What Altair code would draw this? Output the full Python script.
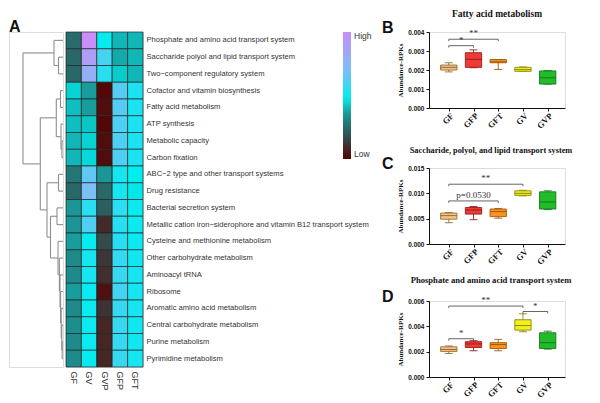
import altair as alt
import pandas as pd

# ---------------- Heatmap data ----------------
rows = [
    "Phosphate and amino acid transport system",
    "Saccharide polyol and lipid transport system",
    "Two\u2212component regulatory system",
    "Cofactor and vitamin biosynthesis",
    "Fatty acid metabolism",
    "ATP synthesis",
    "Metabolic capacity",
    "Carbon fixation",
    "ABC\u22122 type and other transport systems",
    "Drug resistance",
    "Bacterial secretion system",
    "Metallic cation iron\u2212siderophore and vitamin B12 transport system",
    "Cysteine and methionine metabolism",
    "Other carbohydrate metabolism",
    "Aminoacyl tRNA",
    "Ribosome",
    "Aromatic amino acid metabolism",
    "Central carbohydrate metabolism",
    "Purine metabolism",
    "Pyrimidine metabolism",
]
cols = ["GF", "GV", "GVP", "GFP", "GFT"]
gf_vals = [0.25, 0.24, 0.24, 0.44, 0.41, 0.41, 0.40, 0.40, 0.28, 0.24, 0.35, 0.35, 0.36, 0.33, 0.33, 0.36, 0.33, 0.34, 0.33, 0.33]
gv_vals = [1.00, 0.90, 0.80, 0.36, 0.36, 0.42, 0.44, 0.45, 0.65, 0.70, 0.55, 0.62, 0.49, 0.52, 0.52, 0.50, 0.50, 0.50, 0.50, 0.49]
gvp_vals = [0.49, 0.60, 0.55, 0.01, 0.02, 0.01, 0.02, 0.02, 0.35, 0.24, 0.22, 0.09, 0.17, 0.12, 0.10, 0.03, 0.11, 0.08, 0.08, 0.08]
gfp_vals = [0.40, 0.38, 0.43, 0.63, 0.63, 0.62, 0.62, 0.62, 0.52, 0.52, 0.56, 0.55, 0.55, 0.57, 0.58, 0.60, 0.58, 0.58, 0.58, 0.58]
gft_vals = [0.40, 0.40, 0.40, 0.53, 0.53, 0.53, 0.53, 0.53, 0.48, 0.47, 0.50, 0.50, 0.50, 0.51, 0.52, 0.52, 0.52, 0.51, 0.51, 0.52]

color_stops = [0.0, 0.2, 0.34, 0.48, 0.7, 1.0]
color_range = ["#550303", "#2f5858", "#1d8e8e", "#00eeee", "#7cbef5", "#c98ef7"]

# dendrogram merges: (left, right, height) ; leaves 0..19, new clusters 20+
merges = [
    (1, 2, 4.5), (0, 20, 9.0), (3, 4, 2.5), (6, 7, 1.0), (5, 23, 2.0),
    (22, 24, 6.7), (8, 9, 4.5), (10, 11, 6.0), (18, 19, 0.8), (17, 28, 1.2),
    (16, 29, 1.8), (15, 30, 2.4), (14, 31, 3.0), (13, 32, 3.6), (12, 33, 5.0),
    (27, 34, 12.5), (26, 35, 16.0), (25, 36, 22.7), (21, 37, 40.0),
]

# ---------------- Box plot data ----------------
groups = ["GF", "GFP", "GFT", "GV", "GVP"]
box_fill = ["#f5c48a", "#ee3b36", "#f7931e", "#f2f01c", "#22bb2a"]
box_stroke = ["#9a6a30", "#9a1e1a", "#a35a08", "#8a8a10", "#157a1c"]

fatty_lo = [0.00190, 0.00212, 0.00203, 0.00193, 0.00126]
fatty_q1 = [0.00200, 0.00214, 0.00238, 0.00193, 0.00126]
fatty_med = [0.00214, 0.00256, 0.00243, 0.00202, 0.00159]
fatty_q3 = [0.00226, 0.00291, 0.00255, 0.00214, 0.00195]
fatty_hi = [0.00238, 0.00306, 0.00255, 0.00216, 0.00197]

sacch_lo = [0.0042, 0.0048, 0.0051, 0.0095, 0.0068]
sacch_q1 = [0.0049, 0.0059, 0.0054, 0.0096, 0.0069]
sacch_med = [0.0056, 0.0067, 0.0064, 0.0100, 0.0083]
sacch_q3 = [0.0061, 0.0072, 0.0069, 0.0105, 0.0103]
sacch_hi = [0.0062, 0.0074, 0.0070, 0.0106, 0.0105]

phos_lo = [0.00186, 0.00207, 0.00207, 0.00357, 0.00220]
phos_q1 = [0.00202, 0.00233, 0.00225, 0.00370, 0.00225]
phos_med = [0.00217, 0.00261, 0.00256, 0.00406, 0.00271]
phos_q3 = [0.00238, 0.00279, 0.00271, 0.00452, 0.00349]
phos_hi = [0.00245, 0.00287, 0.00297, 0.00499, 0.00362]

# significance brackets: (from group, to group, level, label)
fatty_sig = [("GF", "GFT", 0.00362, "**"), ("GF", "GFP", 0.00328, "*")]
sacch_sig = [("GF", "GV", 0.0118, "**"), ("GF", "GFT", 0.0085, "p=0.0530")]
phos_sig = [("GF", "GV", 0.0056, "**"), ("GV", "GVP", 0.00517, "*"), ("GF", "GFP", 0.00302, "*")]

# ---------------- Build heatmap ----------------
vals_by_col = {"GF": gf_vals, "GV": gv_vals, "GVP": gvp_vals, "GFP": gfp_vals, "GFT": gft_vals}
heat_rows = []
for c in cols:
    for r, v in zip(rows, vals_by_col[c]):
        heat_rows.append({"row": r, "col": c, "v": v})
heat_df = pd.DataFrame(heat_rows)

HM_W, HM_H = 77, 335

heat = alt.Chart(heat_df).mark_rect(stroke="#1a2626", strokeWidth=0.7).encode(
    x=alt.X("col:N", sort=cols, scale=alt.Scale(paddingInner=0, paddingOuter=0),
            axis=alt.Axis(title=None, orient="bottom", labelAngle=90, ticks=False, domain=False,
                          labelFont="Liberation Sans", labelFontSize=9, labelColor="#333333",
                          labelPadding=4, labelAlign="left", labelBaseline="middle")),
    y=alt.Y("row:N", sort=rows, scale=alt.Scale(paddingInner=0, paddingOuter=0),
            axis=alt.Axis(title=None, orient="right", ticks=False, domain=False,
                          labelFont="Liberation Sans", labelFontSize=7.6, labelColor="#333333",
                          labelPadding=3, labelLimit=300)),
    color=alt.Color("v:Q", title=None,
                    scale=alt.Scale(domain=color_stops, range=color_range, interpolate="rgb"),
                    legend=alt.Legend(orient="none", legendX=334, legendY=0, direction="vertical",
                                      gradientLength=127, gradientThickness=8, gradientStrokeWidth=0,
                                      values=[0, 1], labelExpr="datum.value >= 1 ? 'High' : 'Low'",
                                      labelFont="Liberation Sans", labelFontSize=8.5,
                                      labelColor="#333333", labelOffset=3)),
).properties(width=HM_W, height=HM_H)

# ---------------- Build dendrogram ----------------
pos = {i: i + 0.5 for i in range(len(rows))}
hgt = {i: 0.0 for i in range(len(rows))}
segs = []
for k, (a, b, h) in enumerate(merges):
    nid = len(rows) + k
    segs.append({"x": hgt[a], "x2": h, "y": pos[a], "y2": pos[a]})
    segs.append({"x": hgt[b], "x2": h, "y": pos[b], "y2": pos[b]})
    segs.append({"x": h, "x2": h, "y": pos[a], "y2": pos[b]})
    pos[nid] = (pos[a] + pos[b]) / 2
    hgt[nid] = h
seg_df = pd.DataFrame(segs)

DEN_W = 54
dendro_lines = alt.Chart(seg_df).mark_rule(color="#8f8f8f", strokeWidth=1.1).encode(
    x=alt.X("x:Q", scale=alt.Scale(domain=[DEN_W, 0], nice=False, zero=False), axis=None),
    x2="x2:Q",
    y=alt.Y("y:Q", scale=alt.Scale(domain=[0, len(rows)], reverse=True, nice=False, zero=False), axis=None),
    y2="y2:Q",
)
letter_a = alt.Chart(pd.DataFrame({"t": ["A"]})).mark_text(
    font="Liberation Sans", fontSize=16, fontWeight="bold", align="left", baseline="middle", color="#111111"
).encode(x=alt.value(0), y=alt.value(-5), text="t:N")
dendro = alt.layer(dendro_lines, letter_a).properties(width=DEN_W, height=HM_H)

left = alt.hconcat(dendro, heat, spacing=0)

BOX_W, BOX_H = 136, 76


# ---------------- Box plot panels ----------------
def box_panel(title, letter, lo, q1, med, q3, hi, sig, ymax, ystep, title_size, title_offset, title_dx):
    n = len(groups)
    df = pd.DataFrame({
        "grp": groups, "idx": list(range(n)), "lo": lo, "q1": q1, "med": med, "q3": q3, "hi": hi,
        "fill": box_fill, "stroke": box_stroke,
    })
    hw, cw = 0.33, 0.16
    df["bl"] = df["idx"] - hw
    df["br"] = df["idx"] + hw
    df["cl"] = df["idx"] - cw
    df["cr"] = df["idx"] + cw
    sig_df = pd.DataFrame([
        {"a": groups.index(s[0]), "b": groups.index(s[1]), "lev": s[2], "lab": s[3]} for s in sig
    ])
    sig_df["mid"] = (sig_df["a"] + sig_df["b"]) / 2
    sig_df["drop"] = sig_df["lev"] - ymax * 0.025

    label_expr = "[" + ",".join("'%s'" % g for g in groups) + "][datum.value]"
    ticks = [round(i * ystep, 6) for i in range(int(round(ymax / ystep)) + 1)]
    xs = alt.Scale(domain=[-0.8, n - 0.3], nice=False, zero=False)
    ys = alt.Scale(domain=[0, ymax], nice=False, zero=True)
    ax = alt.Axis(
        title=None, values=list(range(n)), labelExpr=label_expr, labelAngle=-45, grid=False,
        labelFont="Liberation Serif", labelFontWeight="bold", labelFontSize=8.5, labelColor="#111111",
        tickSize=3, tickColor="#111111", domainColor="#111111", labelPadding=0, labelOverlap=False)
    ay = alt.Axis(
        title="Abundance-RPKs", values=ticks, format=".3f", grid=False, labelOverlap=False,
        labelFont="Liberation Sans", labelFontWeight="bold", labelFontSize=6.5, labelColor="#111111",
        titleFont="Liberation Serif", titleFontWeight="bold", titleFontSize=7, titleColor="#111111",
        tickSize=3, tickColor="#111111", domainColor="#111111", titlePadding=4, labelPadding=2)

    def X(f):
        return alt.X(f, type="quantitative", scale=xs, axis=ax)

    def Y(f):
        return alt.Y(f, type="quantitative", scale=ys, axis=ay)

    base = alt.Chart(df)
    scol = alt.Color("stroke:N", scale=None)
    whisk = base.mark_rule(strokeWidth=0.9).encode(x=X("idx"), y=Y("lo"), y2="hi:Q", color=scol)
    cap_lo = base.mark_rule(strokeWidth=0.9).encode(x=X("cl"), x2="cr:Q", y=Y("lo"), color=scol)
    cap_hi = base.mark_rule(strokeWidth=0.9).encode(x=X("cl"), x2="cr:Q", y=Y("hi"), color=scol)
    box = base.mark_bar(strokeWidth=0.9).encode(
        x=X("bl"), x2="br:Q", y=Y("q1"), y2="q3:Q",
        fill=alt.Fill("fill:N", scale=None), stroke=alt.Stroke("stroke:N", scale=None))
    med_line = base.mark_rule(strokeWidth=1.0).encode(x=X("bl"), x2="br:Q", y=Y("med"), color=scol)

    sb = alt.Chart(sig_df)
    br_h = sb.mark_rule(color="#555555", strokeWidth=0.9).encode(x=X("a"), x2="b:Q", y=Y("lev"))
    br_l = sb.mark_rule(color="#555555", strokeWidth=0.9).encode(x=X("a"), y=Y("lev"), y2="drop:Q")
    br_r = sb.mark_rule(color="#555555", strokeWidth=0.9).encode(x=X("b"), y=Y("lev"), y2="drop:Q")
    br_t = sb.mark_text(font="Liberation Serif", fontSize=9, color="#333333", baseline="bottom", dy=-1).encode(
        x=X("mid"), y=Y("lev"), text="lab:N")

    let = alt.Chart(pd.DataFrame({"t": [letter]})).mark_text(
        font="Liberation Sans", fontSize=16, fontWeight="bold", align="left", baseline="middle", color="#111111"
    ).encode(x=alt.value(-47), y=alt.value(-4), text="t:N")

    return alt.layer(whisk, cap_lo, cap_hi, box, med_line, br_h, br_l, br_r, br_t, let).properties(
        width=BOX_W, height=BOX_H,
        title=alt.TitleParams(title, font="Liberation Serif", fontSize=title_size, fontWeight="bold",
                              color="#111111", anchor="middle", frame="group", offset=title_offset,
                              dx=title_dx),
    )


pB = box_panel("Fatty acid metabolism", "B", fatty_lo, fatty_q1, fatty_med, fatty_q3, fatty_hi,
               fatty_sig, 0.004, 0.001, 9.5, 2, 0)
pC = box_panel("Saccharide, polyol, and lipid transport system", "C", sacch_lo, sacch_q1, sacch_med,
               sacch_q3, sacch_hi, sacch_sig, 0.015, 0.005, 8.3, 2, -6)
pD = box_panel("Phosphate and amino acid transport system", "D", phos_lo, phos_q1, phos_med, phos_q3,
               phos_hi, phos_sig, 0.006, 0.002, 8.6, 4, -6)

right = alt.vconcat(alt.vconcat(pB, pC, spacing=14), pD, spacing=8)

chart = alt.hconcat(left, right, spacing=12).properties(
    padding={"left": 0, "top": 0, "right": 0, "bottom": 0}
).configure_view(stroke=None).configure_axis(labelOverlap=False).configure(background="white")

chart.save("out.html", embed_options={"renderer": "svg", "actions": False})
